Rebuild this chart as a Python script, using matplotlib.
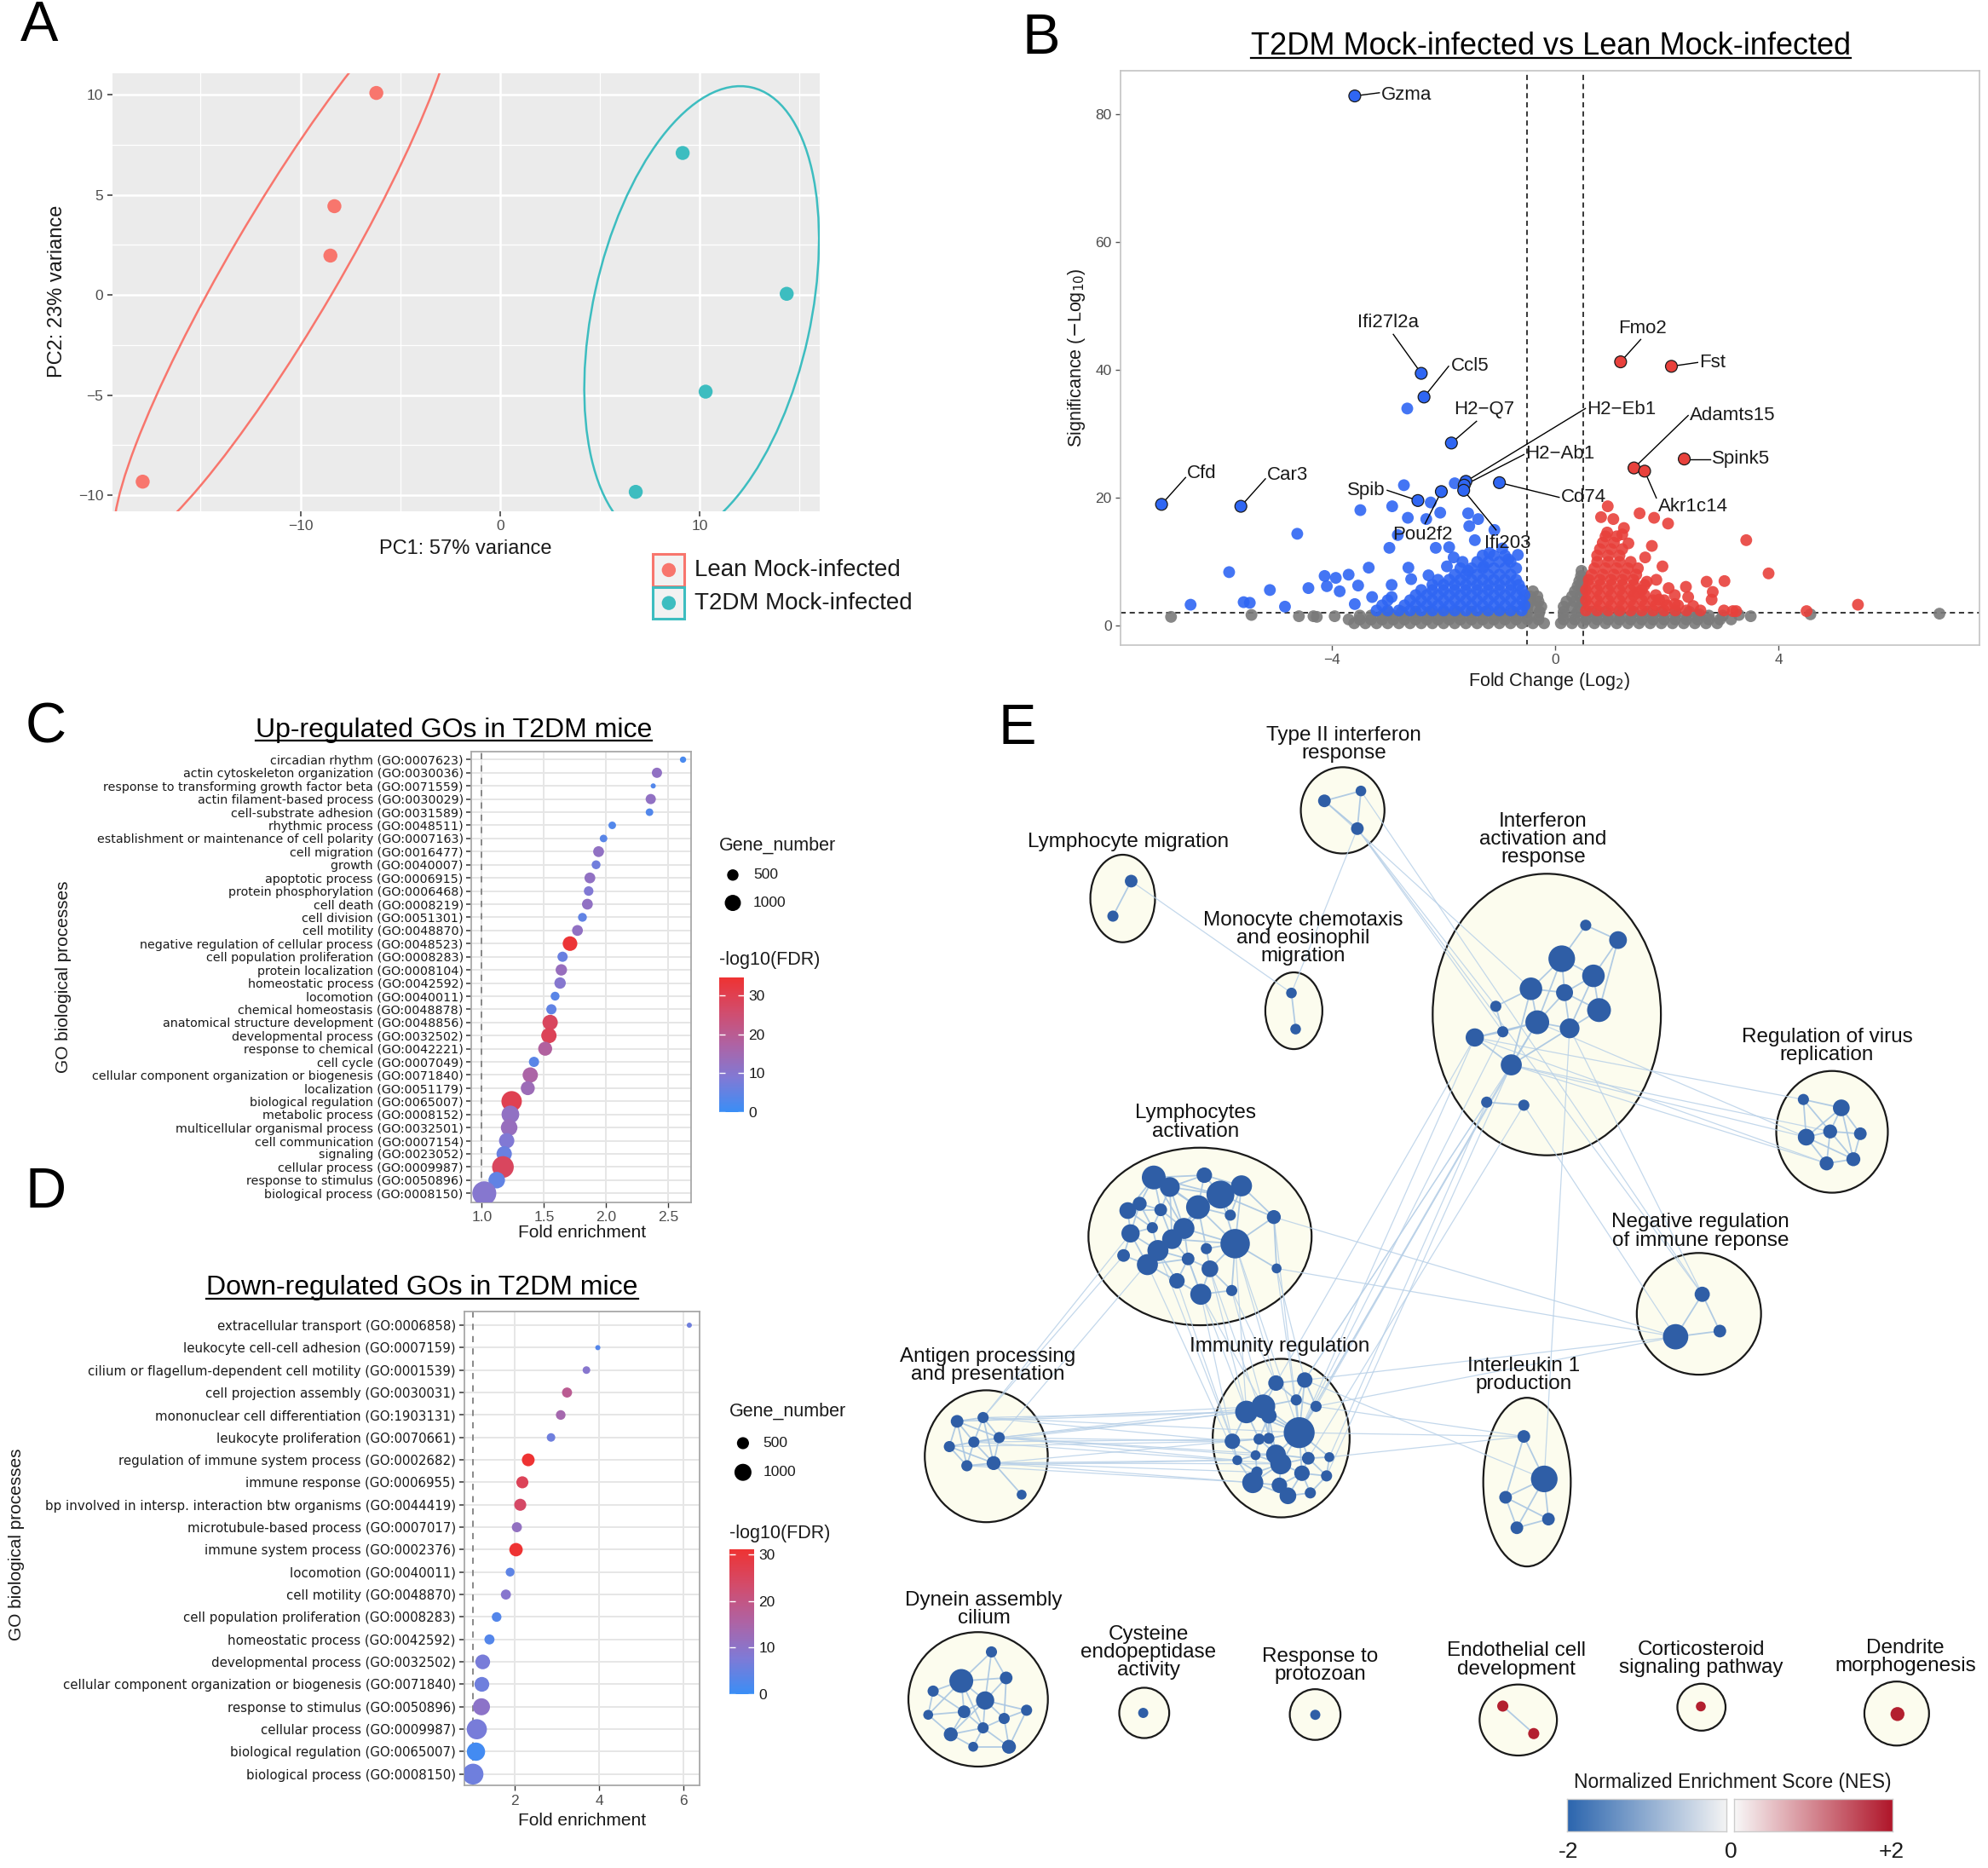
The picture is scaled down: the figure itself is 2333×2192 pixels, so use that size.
import re
import numpy as np
import matplotlib
matplotlib.use("Agg")
import matplotlib.pyplot as plt
from matplotlib.patches import Ellipse, Rectangle
from matplotlib.colors import LinearSegmentedColormap, Normalize
from matplotlib.cm import ScalarMappable

plt.rcParams['font.family'] = ['Liberation Sans', 'DejaVu Sans']

# ---------------- A: PCA ----------------
lean_pc1 = [-6.2, -8.3, -8.5, -17.9]
lean_pc2 = [10.1, 4.44, 1.97, -9.33]
t2dm_pc1 = [9.14, 14.35, 10.29, 6.79]
t2dm_pc2 = [7.1, 0.06, -4.83, -9.84]
# 95% ellipses: centre x, centre y, width, height, angle
lean_ellipse = [-10.79, 1.4, 32.4, 5.44, 59.55]
t2dm_ellipse = [10.09, -0.95, 23.2, 10.9, 77.6]
groups = ['Lean Mock-infected', 'T2DM Mock-infected']
group_colors = ['#F8766D', '#3DBDC0']

# ---------------- B: volcano ----------------
blue_pts = [(-6.53, 3.3), (-5.84, 8.4), (-5.58, 3.7), (-5.47, 3.6), (-5.11, 5.6), (-4.84, 3.0),
            (-4.62, 14.4), (-4.42, 5.9), (-4.13, 7.8), (-4.09, 6.2), (-3.93, 7.5), (-3.86, 5.4),
            (-3.70, 8.0), (-3.59, 3.4), (-3.53, 6.3), (-3.49, 18.1), (-3.34, 9.1), (-3.28, 4.5),
            (-2.97, 12.2), (-2.93, 6.4), (-2.93, 4.5), (-2.92, 18.7), (-2.82, 14.2), (-2.71, 22.0),
            (-2.65, 34.0), (-2.64, 16.9), (-2.63, 9.1), (-2.58, 7.3), (-2.31, 16.7), (-2.27, 7.9),
            (-2.23, 19.3), (-2.06, 17.7), (-1.94, 9.3), (-1.90, 12.3), (-1.82, 10.7), (-1.80, 22.3),
            (-1.66, 10.0), (-1.56, 17.6), (-1.56, 8.6), (-1.54, 15.6), (-1.44, 13.4), (-1.38, 16.7),
            (-1.28, 9.3), (-1.18, 11.4), (-1.09, 15.0), (-0.95, 12.1), (-0.84, 10.4), (-0.67, 11.1),
            (-2.14, 12.2)]
red_pts = [(0.94, 18.7), (1.51, 17.6), (1.77, 16.9), (2.02, 16.0), (3.42, 13.4), (3.82, 8.2),
           (3.03, 7.0), (2.71, 6.9), (2.82, 5.3), (2.80, 4.1), (2.34, 6.1), (2.38, 4.5),
           (3.02, 2.4), (3.18, 2.3), (3.24, 2.3), (4.50, 2.3), (5.42, 3.3), (1.61, 10.7),
           (1.48, 9.0), (1.73, 12.5), (1.23, 15.3), (1.04, 16.7), (0.82, 17.0), (0.93, 14.6),
           (1.31, 12.9), (1.20, 14.3), (1.92, 9.3), (1.81, 7.2), (1.64, 6.9), (2.03, 5.9),
           (2.14, 4.8), (1.86, 4.1), (1.48, 5.2), (2.14, 3.4), (2.47, 3.1)]
grey_pts = [(-6.88, 1.4), (-5.44, 1.7), (-4.59, 1.5), (-4.33, 1.5), (-4.27, 1.4), (-3.95, 1.5),
            (2.58, 1.8), (3.29, 1.7), (3.50, 1.5), (4.57, 1.8), (6.88, 1.9)]
# dense parts of the clouds, written as rows: significance, fold changes
blue_cloud = [
    (2.4, [-3.2, -3.0, -2.8, -2.6, -2.4, -2.2, -2.0, -1.8, -1.6, -1.4, -1.2, -1.0, -0.8, -0.6]),
    (3.2, [-3.1, -2.7, -2.5, -2.3, -2.1, -1.9, -1.7, -1.5, -1.3, -1.1, -0.9, -0.7, -0.55]),
    (4.0, [-3.0, -2.6, -2.4, -2.2, -2.0, -1.8, -1.6, -1.4, -1.2, -1.0, -0.8, -0.6]),
    (4.8, [-2.5, -2.3, -2.1, -1.9, -1.7, -1.5, -1.3, -1.1, -0.9, -0.7, -0.55]),
    (5.6, [-2.4, -2.2, -2.0, -1.8, -1.6, -1.4, -1.2, -1.0, -0.8, -0.6]),
    (6.4, [-2.2, -2.0, -1.8, -1.6, -1.4, -1.2, -1.0, -0.8, -0.65]),
    (7.2, [-2.1, -1.9, -1.7, -1.5, -1.3, -1.1, -0.9, -0.7]),
    (8.0, [-1.8, -1.6, -1.4, -1.2, -1.0, -0.8]),
    (9.0, [-1.7, -1.5, -1.3, -1.1, -0.9, -0.7]),
    (10.0, [-1.4, -1.2, -1.0, -0.8]),
    (11.0, [-1.3, -1.1, -0.9]),
]
red_cloud = [
    (2.4, [0.55, 0.75, 0.95, 1.15, 1.35, 1.55, 1.75, 1.95, 2.15, 2.35, 2.6]),
    (3.2, [0.6, 0.8, 1.0, 1.2, 1.4, 1.6, 1.8, 2.0, 2.2]),
    (4.0, [0.55, 0.75, 0.95, 1.15, 1.35, 1.55, 1.75, 1.95]),
    (4.8, [0.6, 0.8, 1.0, 1.2, 1.4, 1.6, 1.8]),
    (5.6, [0.55, 0.75, 0.95, 1.15, 1.35, 1.55]),
    (6.4, [0.6, 0.8, 1.0, 1.2, 1.4, 1.6]),
    (7.2, [0.6, 0.8, 1.0, 1.2, 1.4]),
    (8.0, [0.65, 0.85, 1.05, 1.25, 1.45]),
    (9.0, [0.7, 0.9, 1.1, 1.3]),
    (10.0, [0.75, 0.95, 1.15, 1.35]),
    (11.0, [0.75, 0.95, 1.15]),
    (12.0, [0.8, 1.0, 1.2]),
    (13.0, [0.85, 1.05]),
    (14.0, [0.9, 1.1]),
]
grey_cloud = [
    (0.4, [-3.6, -3.4, -3.2, -3.0, -2.8, -2.6, -2.4, -2.2, -2.0, -1.8, -1.6, -1.4, -1.2, -1.0,
           -0.8, -0.6, -0.4, -0.2, 0.1, 0.3, 0.5, 0.7, 0.9, 1.1, 1.3, 1.5, 1.7, 1.9, 2.1, 2.3,
           2.5, 2.7, 2.9]),
    (1.0, [-3.7, -3.5, -3.3, -3.1, -2.9, -2.7, -2.5, -2.3, -2.1, -1.9, -1.7, -1.5, -1.3, -1.1,
           -0.9, -0.7, -0.5, -0.3, 0.15, 0.35, 0.55, 0.75, 0.95, 1.15, 1.35, 1.55, 1.75, 1.95,
           2.15, 2.35, 2.55, 2.75, 2.95, 3.15]),
    (1.6, [-3.5, -3.3, -3.1, -2.9, -2.7, -2.5, -2.3, -2.1, -1.9, -1.7, -1.5, -1.3, -1.1, -0.9,
           -0.7, -0.5, -0.3, 0.15, 0.35, 0.55, 0.75, 0.95, 1.15, 1.35, 1.55, 1.75, 1.95, 2.15,
           2.35, 2.55, 2.75, 3.0]),
    (2.2, [-3.0, -2.75, -2.5, -2.25, -2.0, -1.75, -1.5, -1.25, -1.0, -0.75, -0.5, -0.28, 0.15,
           0.4, 0.65, 0.9, 1.15, 1.4, 1.65, 1.9, 2.15, 2.4]),
    (3.0, [-0.5, -0.36, -0.25, 0.15, 0.3, 0.45]),
    (3.8, [-0.45, -0.3, 0.2, 0.35, 0.48]),
    (4.6, [-0.45, -0.32, 0.3, 0.45]),
    (5.4, [-0.4, 0.35, 0.48]),
    (6.2, [0.4, 0.48]),
    (7.0, [0.43, 0.5]),
    (7.8, [0.46]),
    (8.6, [0.47]),
]
gene_names = ['Gzma', 'Ifi27l2a', 'Ccl5', 'H2\u2212Q7', 'H2\u2212Eb1', 'H2\u2212Ab1', 'Cd74', 'Spib',
              'Pou2f2', 'Ifi203', 'Cfd', 'Car3', 'Fmo2', 'Fst', 'Adamts15', 'Spink5', 'Akr1c14']
gene_fc = [-3.59, -2.40, -2.35, -1.86, -1.60, -1.63, -1.00, -2.46, -2.04, -1.64, -7.05, -5.63,
           1.17, 2.08, 1.41, 2.31, 1.60]
gene_sig = [82.9, 39.5, 35.8, 28.6, 22.6, 22.0, 22.4, 19.6, 21.0, 21.2, 19.0, 18.7,
            41.3, 40.6, 24.7, 26.1, 24.2]
# label anchor (text) and end of its leader line
label_fc = [-3.12, -2.99, -1.86, -1.28, 0.57, -0.53, 0.10, -3.04, -2.38, -0.86, -6.59, -5.16,
            1.56, 2.58, 2.41, 2.80, 1.84]
label_sig = [83.1, 47.5, 40.7, 33.9, 33.9, 26.9, 20.1, 21.2, 14.2, 12.9, 23.8, 23.6,
             46.5, 41.2, 32.9, 26.1, 18.7]
label_ha = ['left', 'center', 'left', 'center', 'left', 'left', 'left', 'right', 'center', 'center',
            'left', 'left', 'center', 'left', 'left', 'left', 'left']
leader_fc = [-3.15, -2.90, -1.91, -1.41, 0.54, -0.56, 0.07, -3.01, -2.33, -1.06, -6.62, -5.19,
             1.53, 2.55, 2.38, 2.77, 1.81]
leader_sig = [83.4, 45.6, 40.6, 32.0, 34.0, 26.8, 20.1, 21.2, 16.0, 15.0, 23.2, 23.0,
              44.8, 41.2, 32.9, 26.1, 20.0]
fc_cut = 0.5
sig_cut = 2.0

# ---------------- C / D: GO dot plots ----------------
up_terms = ['circadian rhythm (GO:0007623)', 'actin cytoskeleton organization (GO:0030036)',
            'response to transforming growth factor beta (GO:0071559)',
            'actin filament-based process (GO:0030029)', 'cell-substrate adhesion (GO:0031589)',
            'rhythmic process (GO:0048511)',
            'establishment or maintenance of cell polarity (GO:0007163)',
            'cell migration (GO:0016477)', 'growth (GO:0040007)', 'apoptotic process (GO:0006915)',
            'protein phosphorylation (GO:0006468)', 'cell death (GO:0008219)',
            'cell division (GO:0051301)', 'cell motility (GO:0048870)',
            'negative regulation of cellular process (GO:0048523)',
            'cell population proliferation (GO:0008283)', 'protein localization (GO:0008104)',
            'homeostatic process (GO:0042592)', 'locomotion (GO:0040011)',
            'chemical homeostasis (GO:0048878)', 'anatomical structure development (GO:0048856)',
            'developmental process (GO:0032502)', 'response to chemical (GO:0042221)',
            'cell cycle (GO:0007049)',
            'cellular component organization or biogenesis (GO:0071840)',
            'localization (GO:0051179)', 'biological regulation (GO:0065007)',
            'metabolic process (GO:0008152)', 'multicellular organismal process (GO:0032501)',
            'cell communication (GO:0007154)', 'signaling (GO:0023052)',
            'cellular process (GO:0009987)', 'response to stimulus (GO:0050896)',
            'biological process (GO:0008150)']
up_fold = [2.62, 2.41, 2.38, 2.36, 2.35, 2.05, 1.98, 1.94, 1.92, 1.87, 1.86, 1.85, 1.81, 1.77,
           1.71, 1.65, 1.64, 1.63, 1.59, 1.56, 1.55, 1.54, 1.51, 1.42, 1.39, 1.37, 1.24, 1.23,
           1.22, 1.20, 1.18, 1.17, 1.12, 1.02]
up_genes = [150, 400, 100, 400, 220, 220, 220, 450, 300, 450, 350, 450, 300, 450, 820, 400, 500,
            500, 300, 400, 900, 900, 750, 400, 900, 750, 1600, 1200, 1050, 900, 900, 1800, 1050,
            2200]
up_fdr = [2, 12, 3, 12, 3, 3, 4, 12, 7, 12, 9, 12, 5, 12, 34, 6, 13, 10, 4, 5, 28, 29, 18, 4, 17,
          14, 30, 12, 13, 9, 6, 28, 5, 10]

down_terms = ['extracellular transport (GO:0006858)', 'leukocyte cell-cell adhesion (GO:0007159)',
              'cilium or flagellum-dependent cell motility (GO:0001539)',
              'cell projection assembly (GO:0030031)',
              'mononuclear cell differentiation (GO:1903131)',
              'leukocyte proliferation (GO:0070661)',
              'regulation of immune system process (GO:0002682)',
              'immune response (GO:0006955)',
              'bp involved in intersp. interaction btw organisms (GO:0044419)',
              'microtubule-based process (GO:0007017)', 'immune system process (GO:0002376)',
              'locomotion (GO:0040011)', 'cell motility (GO:0048870)',
              'cell population proliferation (GO:0008283)', 'homeostatic process (GO:0042592)',
              'developmental process (GO:0032502)',
              'cellular component organization or biogenesis (GO:0071840)',
              'response to stimulus (GO:0050896)', 'cellular process (GO:0009987)',
              'biological regulation (GO:0065007)', 'biological process (GO:0008150)']
down_fold = [6.14, 3.97, 3.70, 3.24, 3.09, 2.86, 2.32, 2.18, 2.13, 2.05, 2.03, 1.89, 1.79, 1.57,
             1.40, 1.24, 1.22, 1.21, 1.10, 1.08, 1.01]
down_genes = [90, 90, 200, 350, 320, 250, 560, 500, 500, 350, 620, 270, 350, 320, 350, 750, 750,
              1000, 1400, 1150, 1500]
down_fdr = [6, 3, 9, 18, 14, 6, 31, 26, 24, 11, 31, 4, 9, 3, 3, 7, 6, 10, 7, 1, 6]

# ---------------- E: enrichment map (layout units) ----------------
cluster_labels = ['Type II interferon\nresponse', 'Lymphocyte migration',
                  'Monocyte chemotaxis\nand eosinophil\nmigration',
                  'Interferon\nactivation and\nresponse', 'Regulation of virus\nreplication',
                  'Lymphocytes\nactivation', 'Negative regulation\nof immune reponse',
                  'Antigen processing\nand presentation', 'Immunity regulation',
                  'Interleukin 1\nproduction', 'Dynein assembly\ncilium',
                  'Cysteine\nendopeptidase\nactivity', 'Response to\nprotozoan',
                  'Endothelial cell\ndevelopment', 'Corticosteroid\nsignaling pathway',
                  'Dendrite\nmorphogenesis']
cluster_x = [1059, 885.5, 1020.5, 1220, 1445, 946.5, 1340, 777.9, 1010.5, 1204.4, 771.5, 902.5,
             1037.3, 1197.5, 1342, 1496]
cluster_y = [639, 708.5, 797, 800, 892.5, 975, 1036, 1148.3, 1134, 1168.7, 1340, 1350.7, 1352,
             1356.3, 1346.2, 1351.2]
cluster_w = [66, 51, 45, 180, 88, 176, 98, 97, 108, 69, 110, 39.4, 40, 61, 38, 51]
cluster_h = [68, 69, 60.5, 222, 96, 140, 96, 104, 125, 133, 106, 39.7, 40, 56, 37, 50.5]
cluster_lx = [1060, 890, 1028, 1217, 1441, 943, 1341, 779, 1009, 1202, 776, 906, 1041, 1196,
              1342, 1503]
cluster_ly = [587, 664, 740, 662, 825, 885, 971, 1077, 1061.5, 1084, 1269, 1303, 1313.6, 1309,
              1308, 1306.5]

# gene-set nodes per cluster: x, y, radius
cluster_nodes = {
    't': [(1044.6, 631.5, 5.0), (1073.4, 623.7, 4.2), (1070.6, 653.4, 5.0)],
    'lm': [(892.2, 694.8, 5.0), (877.8, 722.4, 4.4)],
    'mo': [(1018.6, 783.0, 4.2), (1021.9, 811.5, 4.2)],
    'if': [(1250.7, 729.6, 4.4), (1276.2, 741.3, 7.0), (1231.8, 756.0, 10.5), (1256.8, 769.5, 8.9),
           (1207.5, 779.7, 8.9), (1234.0, 782.7, 6.7), (1261.2, 796.5, 9.4), (1179.8, 793.5, 4.4),
           (1212.5, 806.1, 9.4), (1238.0, 810.9, 7.8), (1185.3, 813.6, 4.4), (1163.2, 818.1, 7.2),
           (1192.0, 839.7, 8.3), (1172.6, 869.1, 4.4), (1201.9, 871.5, 4.4)],
    'vr': [(1422.4, 867.0, 4.4), (1452.3, 873.6, 6.6), (1424.6, 896.7, 6.6), (1443.5, 892.2, 5.5),
           (1467.3, 894.0, 5.0), (1440.7, 917.4, 5.5), (1461.8, 914.1, 5.5)],
    'la': [(910.0, 928.5, 9.4), (949.9, 926.7, 6.1), (979.2, 935.1, 8.3), (922.7, 936.0, 7.8),
           (962.6, 942.0, 11.0), (898.9, 949.2, 5.5), (944.9, 951.9, 9.4), (889.5, 954.6, 6.6),
           (915.5, 954.0, 5.0), (970.4, 958.2, 4.4), (1004.7, 959.7, 5.5), (933.8, 968.7, 8.3),
           (908.9, 968.1, 4.4), (891.7, 972.6, 7.2), (924.4, 977.1, 7.8), (974.2, 980.7, 11.6),
           (951.5, 984.6, 4.4), (913.3, 986.1, 8.3), (886.2, 990.0, 5.0), (905.0, 997.2, 8.3),
           (937.1, 992.7, 5.0), (954.3, 1000.5, 6.6), (1006.9, 1000.2, 3.9), (928.3, 1010.0, 6.1),
           (947.1, 1020.6, 8.3), (971.5, 1017.6, 4.4)],
    'nr': [(1342.6, 1020.6, 6.0), (1321.6, 1054.1, 10.0), (1356.5, 1049.6, 5.0)],
    'ap': [(754.9, 1120.8, 5.0), (775.4, 1117.8, 4.4), (748.8, 1140.7, 4.4), (768.1, 1137.1, 4.4),
           (788.1, 1133.6, 4.4), (762.6, 1155.8, 4.4), (783.7, 1153.7, 5.5), (805.8, 1178.6, 3.9)],
    'ir': [(1006.4, 1090.6, 6.1), (1029.1, 1088.2, 6.1), (983.1, 1113.4, 8.9), (996.4, 1109.0, 9.4),
           (1000.8, 1116.4, 6.1), (1022.4, 1103.9, 4.4), (1038.0, 1109.0, 4.4), (1024.7, 1129.7, 12.2),
           (972.0, 1136.5, 6.1), (993.1, 1134.8, 4.4), (1000.8, 1134.2, 4.4), (975.9, 1151.4, 3.9),
           (990.3, 1147.5, 3.9), (1006.4, 1146.9, 7.8), (1010.2, 1154.3, 8.3), (1031.9, 1149.9, 5.0),
           (1048.5, 1149.0, 3.9), (991.4, 1160.8, 4.4), (1026.9, 1161.7, 6.1), (1046.3, 1163.8, 4.4),
           (988.1, 1169.1, 8.3), (1009.1, 1171.2, 6.1), (1015.8, 1179.5, 6.6), (1033.5, 1177.2, 4.4)],
    'il': [(1201.9, 1132.7, 5.0), (1218.0, 1166.2, 10.5), (1187.5, 1180.7, 5.0), (1221.3, 1197.9, 5.0),
           (1196.4, 1204.7, 5.0)],
    'dy': [(782.0, 1302.6, 4.4), (758.2, 1325.5, 9.4), (793.6, 1323.1, 5.0), (736.0, 1333.5, 4.4),
           (777.0, 1340.9, 7.2), (760.4, 1349.8, 5.0), (732.1, 1352.2, 3.9), (792.0, 1355.1, 4.4),
           (809.7, 1348.6, 4.4), (775.4, 1362.5, 4.4), (749.9, 1367.6, 5.5), (767.6, 1377.4, 3.9),
           (795.8, 1377.4, 5.5)],
    'cy': [(901.7, 1350.7, 4.0)],
    'rp': [(1037.4, 1352.2, 4.0)],
    'en': [(1185.3, 1345.3, 4.4), (1209.7, 1367.0, 4.4)],
    'co': [(1341.5, 1345.6, 3.9)],
    'de': [(1496.6, 1351.6, 5.5)],
}
positive_nes = ['en', 'co', 'de']

intra_edges = """
t1-t2 t1-t3 t2-t3 lm1-lm2 mo1-mo2
if1-if2 if1-if3 if2-if4 if2-if7 if3-if4 if3-if5 if3-if6 if4-if6 if4-if7 if5-if6 if5-if9 if5-if8
if6-if9 if6-if7 if6-if10 if7-if10 if9-if10 if9-if11 if9-if13 if8-if11 if11-if12 if12-if13
if14-if15 if3-if9 if5-if13 if4-if10 if10-if13 if12-if9
vr1-vr2 vr1-vr3 vr1-vr4 vr2-vr4 vr2-vr5 vr3-vr4 vr3-vr6 vr4-vr5 vr4-vr6 vr4-vr7 vr5-vr7 vr6-vr7
vr2-vr7 vr3-vr7 vr2-vr3
la1-la2 la1-la4 la1-la5 la1-la6 la1-la8 la1-la9 la1-la12 la1-la7 la2-la3 la2-la5 la2-la7 la2-la4
la3-la5 la3-la10 la3-la11 la3-la16 la3-la7 la4-la5 la4-la7 la4-la9 la4-la12 la4-la15 la5-la7
la5-la10 la5-la12 la5-la16 la5-la11 la6-la8 la6-la9 la6-la14 la6-la13 la7-la12 la7-la15 la7-la16
la7-la17 la7-la10 la8-la14 la8-la13 la8-la9 la9-la12 la9-la13 la9-la15 la12-la15 la12-la18
la12-la16 la12-la21 la13-la14 la13-la18 la14-la18 la14-la19 la14-la20 la15-la18 la15-la21
la15-la20 la15-la16 la16-la17 la16-la22 la16-la11 la16-la23 la16-la26 la18-la20 la18-la21
la18-la24 la19-la20 la20-la24 la20-la21 la21-la22 la21-la24 la21-la25 la22-la25 la22-la26
la22-la17 la24-la25 la25-la26 la11-la23
ap1-ap2 ap1-ap3 ap1-ap4 ap1-ap5 ap2-ap4 ap2-ap5 ap3-ap4 ap3-ap6 ap4-ap5 ap4-ap6 ap4-ap7 ap5-ap7
ap6-ap7 ap3-ap7 ap7-ap8 ap1-ap6 ap2-ap7
ir1-ir2 ir1-ir4 ir1-ir6 ir1-ir3 ir2-ir6 ir2-ir7 ir2-ir8 ir3-ir4 ir3-ir5 ir3-ir9 ir3-ir10 ir3-ir8
ir4-ir5 ir4-ir6 ir4-ir8 ir4-ir11 ir5-ir8 ir5-ir10 ir5-ir11 ir5-ir14 ir6-ir7 ir6-ir8 ir7-ir8
ir8-ir14 ir8-ir15 ir8-ir16 ir8-ir17 ir8-ir19 ir8-ir11 ir9-ir10 ir9-ir12 ir9-ir13 ir10-ir13
ir10-ir14 ir11-ir14 ir12-ir13 ir12-ir18 ir12-ir21 ir13-ir14 ir13-ir18 ir13-ir15 ir14-ir15
ir14-ir16 ir15-ir16 ir15-ir18 ir15-ir19 ir15-ir21 ir15-ir22 ir16-ir17 ir16-ir19 ir16-ir20
ir17-ir20 ir18-ir21 ir19-ir20 ir19-ir22 ir19-ir23 ir19-ir24 ir20-ir24 ir21-ir22 ir22-ir23
ir23-ir24 ir21-ir23
il1-il2 il1-il3 il2-il3 il2-il4 il3-il4 il3-il5 il4-il5 il2-il5
nr1-nr2 nr1-nr3 nr2-nr3
dy1-dy2 dy1-dy3 dy1-dy5 dy2-dy3 dy2-dy4 dy2-dy5 dy2-dy6 dy2-dy7 dy3-dy5 dy3-dy8 dy4-dy6 dy4-dy7
dy5-dy6 dy5-dy8 dy5-dy9 dy5-dy10 dy5-dy11 dy6-dy7 dy6-dy10 dy6-dy11 dy7-dy11 dy8-dy9 dy8-dy10
dy8-dy13 dy10-dy11 dy10-dy12 dy10-dy13 dy11-dy12 dy12-dy13 dy9-dy13 dy2-dy10
en1-en2
""".split()

inter_edges = """
t3-if8 t3-if11 t1-if5 t3-nr1 t2-nr1 t3-mo1 lm1-mo1
if13-vr3 if13-vr4 if12-vr1 if9-vr3 if12-vr6 if13-vr6
if13-ir2 if13-ir7 if12-ir1 if14-ir2 if13-ir8 if12-ir8 if11-ir8 if15-ir16 if14-ir17 if9-ir8
if13-ir20 if10-il2 if10-nr1 if15-nr2
la16-ir1 la16-ir3 la22-ir3 la25-ir4 la26-ir1 la23-ir2 la11-ir8 la25-ir9 la21-ir3 la18-ir9
la20-ir12 la24-ir9 la23-ir8 la26-ir4 la22-ir14 la16-ir8 la14-ap2 la19-ap2 la18-ap5
ap2-ir3 ap5-ir3 ap5-ir9 ap7-ir9 ap4-ir3 ap7-ir12 ap5-ir4 ap1-ir4 ap7-ir21 ap4-ir10 ap5-ir13
ap7-ir18 ap2-ir8 ap5-ir14 ap4-ir15 ap7-ir15 ap5-ir12 ap2-ir9 ap3-ir9 ap6-ir12 ap6-ir21 ap1-ir3
ir8-il1 ir7-il1 ir2-il2 ir17-il1 ir7-nr2 ir2-nr2 la11-nr2 la23-nr2
""".split()

# ======================= drawing =======================
W, H = 1568.0, 1473.0          # layout units of the page
PX = 2333 / W                  # pixels per layout unit


def rect(x0, y0, x1, y1):
    return [x0 / W, 1 - y1 / H, (x1 - x0) / W, (y1 - y0) / H]


def unit_to_pt(r):
    return r * PX * 72 / 100


fig = plt.figure(figsize=(23.33, 21.92), dpi=100)
fig.patch.set_facecolor('white')

fdr_cmap = LinearSegmentedColormap.from_list(
    'fdr', ['#3A8EF6', '#7F7AD6', '#AE63A4', '#D24C6C', '#EE3333'])
TXT = '#1A1A1A'
TICK = '#4D4D4D'

# ---- A ----
axA = fig.add_axes(rect(88.6, 58, 646.8, 403))
axA.set_facecolor('#EBEBEB')
for xs, ys, col, ell in zip([lean_pc1, t2dm_pc1], [lean_pc2, t2dm_pc2], group_colors,
                            [lean_ellipse, t2dm_ellipse]):
    axA.add_patch(Ellipse((ell[0], ell[1]), ell[2], ell[3], angle=ell[4], fill=False,
                          edgecolor=col, lw=1.8, zorder=2))
    axA.scatter(xs, ys, s=140, color=col, edgecolors='none', zorder=3)
axA.set_xlim(-19.42, 16.02)
axA.set_ylim(-10.8, 11.07)
axA.set_xticks([-10, 0, 10])
axA.set_yticks([-10, -5, 0, 5, 10])
axA.set_xticks([-15, -5, 5, 15], minor=True)
axA.set_yticks([-7.5, -2.5, 2.5, 7.5], minor=True)
axA.grid(which='major', color='white', lw=1.8)
axA.grid(which='minor', color='white', lw=0.9)
axA.set_axisbelow(True)
for sp in axA.spines.values():
    sp.set_visible(False)
axA.tick_params(which='major', length=4, width=1.1, color='#333333', labelsize=12.5,
                labelcolor=TICK)
axA.tick_params(which='minor', length=0)

# ---- B ----
axB = fig.add_axes(rect(884, 55.5, 1561, 508.6))


def flatten(rows):
    xs, ys = [], []
    for y, row in rows:
        xs += row
        ys += [y] * len(row)
    return xs, ys


gx, gy = flatten(grey_cloud)
gx += [p[0] for p in grey_pts]
gy += [p[1] for p in grey_pts]
bx, by = flatten(blue_cloud)
bx += [p[0] for p in blue_pts]
by += [p[1] for p in blue_pts]
rx, ry = flatten(red_cloud)
rx += [p[0] for p in red_pts]
ry += [p[1] for p in red_pts]
ms = 100
axB.scatter(gx, gy, s=ms, color='#7A7A7A', alpha=0.9, edgecolors='none', zorder=2)
axB.scatter(bx, by, s=ms, color='#2F66F3', alpha=0.9, edgecolors='none', zorder=3)
axB.scatter(rx, ry, s=ms, color='#E8413C', alpha=0.9, edgecolors='none', zorder=3)
gene_cols = ['#2F66F3' if fc < 0 else '#E8413C' for fc in gene_fc]
for i, name in enumerate(gene_names):
    axB.plot([gene_fc[i], leader_fc[i]], [gene_sig[i], leader_sig[i]], color='black', lw=1.0,
             zorder=4)
    axB.text(label_fc[i], label_sig[i], name, ha=label_ha[i], va='center', fontsize=16,
             color=TXT, zorder=6)
axB.scatter(gene_fc, gene_sig, s=ms, color=gene_cols, edgecolors='#1A1A1A', linewidths=0.9,
            zorder=5)
for x in (-fc_cut, fc_cut):
    axB.axvline(x, color='black', lw=1.1, ls=(0, (4, 3)), zorder=1)
axB.axhline(sig_cut, color='black', lw=1.1, ls=(0, (4, 3)), zorder=1)
axB.set_xlim(-7.78, 7.59)
axB.set_ylim(-3.0, 86.9)
axB.set_xticks([-4, 0, 4])
axB.set_yticks([0, 20, 40, 60, 80])
for sp in axB.spines.values():
    sp.set_color('#C4C4C4')
    sp.set_linewidth(1.2)
axB.tick_params(length=4, width=1.0, color='#555555', labelsize=12.5, labelcolor=TICK)


# ---- C / D ----
def dot_panel(box, terms, fold, genes, fdr, xlim, xticks, xticklabels, vmax, k, fs):
    ax = fig.add_axes(rect(*box))
    n = len(terms)
    y = np.arange(n)
    ax.axvline(1.0, color='#808080', lw=1.3, ls=(0, (4, 4)), zorder=1)
    ax.scatter(fold, y, s=np.array(genes) * k, c=fdr, cmap=fdr_cmap, vmin=0, vmax=vmax,
               edgecolors='none', zorder=3)
    ax.set_yticks(y)
    ax.set_yticklabels(terms, fontsize=fs, color=TXT, fontfamily='DejaVu Sans')
    ax.set_xticks(xticks)
    ax.set_xticklabels(xticklabels)
    ax.set_xlim(*xlim)
    ax.grid(True, color='#E6E6E6', lw=1.4)
    ax.set_axisbelow(True)
    for sp in ax.spines.values():
        sp.set_color('#A8A8A8')
        sp.set_linewidth(1.3)
    ax.tick_params(axis='y', length=4, width=1.1, color='#333333', pad=3)
    ax.tick_params(axis='x', length=4, width=1.0, color='#333333', labelsize=12.5,
                   labelcolor=TICK)
    return ax


axC = dot_panel((372, 593, 545, 948), up_terms, up_fold, up_genes, up_fdr, (0.918, 2.684),
                [1.0, 1.5, 2.0, 2.5], ['1.0', '1.5', '2.0', '2.5'], 34.6, 0.186, 10.3)
axC.set_ylim(len(up_terms) - 1 + 0.68, -0.58)
axD = dot_panel((366, 1034, 552, 1408), down_terms, down_fold, down_genes, down_fdr,
                (0.797, 6.39), [2, 4, 6], ['2', '4', '6'], 31.0, 0.207, 10.8)
axD.set_ylim(len(down_terms) - 1 + 0.51, -0.62)

for box, vmax in (((567, 771, 587, 877), 34.6), ((575, 1222, 595, 1336), 31.0)):
    cax = fig.add_axes(rect(*box))
    cb = fig.colorbar(ScalarMappable(Normalize(0, vmax), fdr_cmap), cax=cax, ticks=[0, 10, 20, 30])
    cb.outline.set_visible(False)
    cax.tick_params(length=5, width=1.0, color='white', direction='in', labelsize=12.5,
                    labelcolor=TXT, left=True, right=True)

# ---- E colour scale segments ----
grad = np.linspace(0, 1, 256).reshape(1, -1)
for box, cols in (((1236.3, 1418.9, 1362, 1444), ['#2B65AE', '#F4F4F4']),
                  ((1368, 1418.9, 1492.8, 1444), ['#F8F8F8', '#B0162A'])):
    sax = fig.add_axes(rect(*box))
    sax.imshow(grad, aspect='auto', cmap=LinearSegmentedColormap.from_list('s', cols))
    sax.set_xticks([])
    sax.set_yticks([])
    for sp in sax.spines.values():
        sp.set_color('#CCCCCC')
        sp.set_linewidth(1.0)

# ---- overlay in layout units: letters, labels, legends, panel E ----
ov = fig.add_axes([0, 0, 1, 1])
ov.set_xlim(0, W)
ov.set_ylim(H, 0)
ov.set_axis_off()

for letter, x, y in (('A', 31, 21), ('B', 821, 31), ('C', 36, 574), ('D', 36, 941),
                     ('E', 802, 575)):
    ov.text(x, y, letter, fontsize=48, ha='center', va='center', color='black')

# axis titles
ov.text(367, 433, 'PC1: 57% variance', fontsize=17, ha='center', va='center', color=TXT)
ov.text(45, 230, 'PC2: 23% variance', fontsize=17, ha='center', va='center', rotation=90,
        color=TXT)
ov.text(1222, 537, 'Fold Change (Log$_2$)', fontsize=15.5, ha='center', va='center', color=TXT)
ov.text(849, 282, 'Significance ($-$Log$_{10}$)', fontsize=15.5, ha='center', va='center',
        rotation=90, color=TXT)
ov.text(459, 972, 'Fold enrichment', fontsize=15, ha='center', va='center', color=TXT)
ov.text(50, 770, 'GO biological processes', fontsize=15, ha='center', va='center', rotation=90,
        color=TXT)
ov.text(459, 1436, 'Fold enrichment', fontsize=15, ha='center', va='center', color=TXT)
ov.text(13, 1218, 'GO biological processes', fontsize=15, ha='center', va='center', rotation=90,
        color=TXT)

titles = [ov.text(1223, 43, 'T2DM Mock-infected vs Lean Mock-infected', fontsize=26,
                  ha='center', va='baseline', color='black'),
          ov.text(358, 581, 'Up-regulated GOs in T2DM mice', fontsize=23, ha='center',
                  va='baseline', color='black'),
          ov.text(333, 1021, 'Down-regulated GOs in T2DM mice', fontsize=23, ha='center',
                  va='baseline', color='black')]

# legend A
for i, (lab, col) in enumerate(zip(groups, group_colors)):
    y0 = 437 + 26 * i
    ov.add_patch(Rectangle((515, y0), 25, 25, facecolor='#F2F2F2', edgecolor=col, lw=2.2))
    ov.scatter([527.5], [y0 + 12.5], s=140, color=col, edgecolors='none')
    ov.text(548, y0 + 12.5, lab, fontsize=20, ha='left', va='center', color=TXT)

# size legends C / D
for (x0, yt, y5, y10, yc), k in (((567, 667, 690, 712, 757), 0.186),
                                  ((575, 1113, 1138, 1161, 1209), 0.207)):
    ov.text(x0, yt, 'Gene_number', fontsize=15.5, ha='left', va='center', color=TXT)
    for yy, g in ((y5, 500), (y10, 1000)):
        ov.scatter([x0 + 11], [yy], s=g * k, color='black', edgecolors='none')
        ov.text(x0 + 27, yy, str(g), fontsize=12.5, ha='left', va='center', color=TXT)
    ov.text(x0, yc, '-log10(FDR)', fontsize=15.5, ha='left', va='center', color=TXT)

# panel E network
for i in range(len(cluster_labels)):
    ov.add_patch(Ellipse((cluster_x[i], cluster_y[i]), cluster_w[i], cluster_h[i],
                         facecolor='#FCFCEE', edgecolor='#1A1A1A', lw=1.6, zorder=1))
    ov.text(cluster_lx[i], cluster_ly[i], cluster_labels[i], fontsize=17.5, ha='center',
            va='center', linespacing=0.95, color='#111111', zorder=5)


def node(nid):
    m = re.match(r'([a-z]+)(\d+)', nid)
    return cluster_nodes[m.group(1)][int(m.group(2)) - 1]


for e in inter_edges:
    a, b = e.split('-')
    pa, pb = node(a), node(b)
    ov.plot([pa[0], pb[0]], [pa[1], pb[1]], color='#B9D1E8', lw=0.9, alpha=0.85, zorder=2)
for e in intra_edges:
    a, b = e.split('-')
    pa, pb = node(a), node(b)
    ov.plot([pa[0], pb[0]], [pa[1], pb[1]], color='#A9C6E2', lw=1.3, alpha=0.9, zorder=2)
for key, pts in cluster_nodes.items():
    col = '#B3202F' if key in positive_nes else '#2F5EA6'
    ov.scatter([p[0] for p in pts], [p[1] for p in pts],
               s=[(2 * unit_to_pt(p[2])) ** 2 for p in pts], color=col, edgecolors='none',
               zorder=3)

ov.text(1366.5, 1405.5, 'Normalized Enrichment Score (NES)', fontsize=16.5, ha='center',
        va='center', color=TXT)
for x, s in ((1237.4, '-2'), (1365.4, '0'), (1492.2, '+2')):
    ov.text(x, 1460.4, s, fontsize=19, ha='center', va='center', color=TXT)

# underline the panel titles
fig.canvas.draw()
inv = ov.transData.inverted()
for t in titles:
    bb = t.get_window_extent()
    (x0, _), (x1, _) = inv.transform([[bb.x0, bb.y0], [bb.x1, bb.y0]])
    yb = t.get_position()[1] + 3
    ov.plot([x0, x1], [yb, yb], color='black', lw=1.6)

fig.savefig('out.png', dpi=100, facecolor='white')
